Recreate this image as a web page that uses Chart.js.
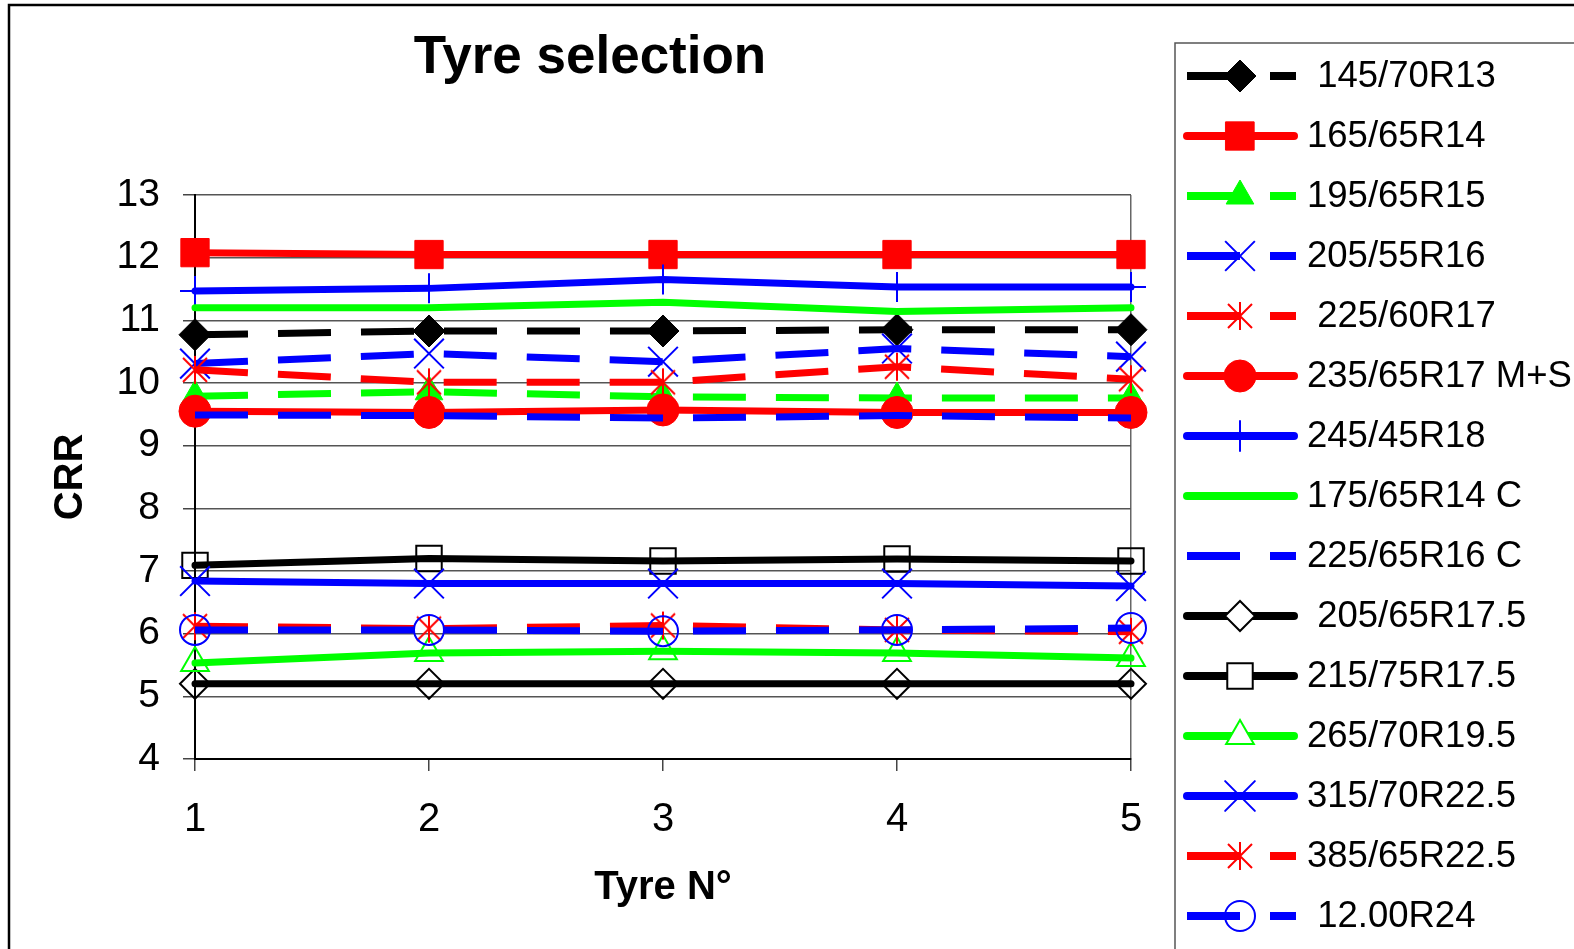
<!DOCTYPE html>
<html>
<head>
<meta charset="utf-8">
<title>Tyre selection</title>
<script src="https://cdn.jsdelivr.net/npm/chart.js@4"></script>
<style>
  html, body { margin: 0; padding: 0; background: #fff; }
  canvas { display: block; }
</style>
</head>
<body>
<canvas id="tyreChart" width="1574" height="949"></canvas>
<script>
// x categories (tyre number) and legend labels
const tyreNumbers = ['1', '2', '3', '4', '5'];
const tyreSizes = [' 145/70R13', '165/65R14', '195/65R15', '205/55R16', ' 225/60R17',
    '235/65R17 M+S', '245/45R18', '175/65R14 C', '225/65R16 C', ' 205/65R17.5',
    '215/75R17.5', '265/70R19.5', '315/70R22.5', '385/65R22.5', ' 12.00R24'];

// CRR values, one array per tyre
const crr145_70R13 = [10.77, 10.83, 10.83, 10.85, 10.85];
const crr165_65R14 = [12.08, 12.05, 12.05, 12.05, 12.05];
const crr195_65R15 = [9.79, 9.86, 9.78, 9.76, 9.76];
const crr205_55R16 = [10.31, 10.47, 10.34, 10.55, 10.42];
const crr225_60R17 = [10.21, 10.01, 10.01, 10.26, 10.06];
const crr235_65R17MS = [9.55, 9.53, 9.57, 9.53, 9.53];
const crr245_45R18 = [11.47, 11.51, 11.65, 11.53, 11.53];
const crr175_65R14C = [11.20, 11.20, 11.29, 11.14, 11.20];
const crr225_65R16C = [9.49, 9.48, 9.44, 9.48, 9.44];
const crr205_65R175 = [5.20, 5.20, 5.20, 5.20, 5.20];
const crr215_75R175 = [7.09, 7.20, 7.16, 7.19, 7.16];
const crr265_70R195 = [5.53, 5.69, 5.72, 5.69, 5.61];
const crr315_70R225 = [6.84, 6.80, 6.80, 6.80, 6.76];
const crr385_65R225 = [6.12, 6.08, 6.13, 6.06, 6.03];
const crr1200R24 = [6.06, 6.06, 6.04, 6.06, 6.09];

const BLACK = '#000000', RED = '#ff0000', GREEN = '#00ff00', BLUE = '#0000ff';
const DASH = [53, 30];
const FONT = '"Liberation Sans", Arial, sans-serif';

// Excel style asterisk: an X plus a vertical bar
function makeAsterisk(color) {
    const c = document.createElement('canvas');
    c.width = 30; c.height = 30;
    const g = c.getContext('2d');
    g.strokeStyle = color;
    g.lineWidth = 2;
    g.beginPath();
    g.moveTo(3, 3); g.lineTo(27, 27);
    g.moveTo(27, 3); g.lineTo(3, 27);
    g.moveTo(15, 1); g.lineTo(15, 29);
    g.stroke();
    return c;
}
const redAsterisk = makeAsterisk(RED);

function series(i, data, color, dashed, style, radius, fill, bw) {
    return {
        label: tyreSizes[i],
        data: data,
        borderColor: color,
        backgroundColor: color,
        borderWidth: 7,
        borderDash: dashed ? DASH : [],
        borderCapStyle: dashed ? 'butt' : 'round',
        tension: 0,
        pointStyle: style || 'circle',
        pointRadius: style ? radius : 0,
        pointHoverRadius: style ? radius : 0,
        pointBackgroundColor: fill,
        pointBorderColor: color,
        pointBorderWidth: bw,
        clip: false,
        order: tyreSizes.length - i
    };
}

const datasets = [
    series(0, crr145_70R13, BLACK, true, 'rectRot', 16, BLACK, 1),
    series(1, crr165_65R14, RED, false, 'rect', 20, RED, 1),
    series(2, crr195_65R15, GREEN, true, 'triangle', 16, GREEN, 1),
    series(3, crr205_55R16, BLUE, true, 'crossRot', 21, BLUE, 2),
    series(4, crr225_60R17, RED, true, redAsterisk, 15, RED, 2),
    series(5, crr235_65R17MS, RED, false, 'circle', 16, RED, 1),
    series(6, crr245_45R18, BLUE, false, 'cross', 15, BLUE, 2),
    series(7, crr175_65R14C, GREEN, false, null, 0, GREEN, 0),
    series(8, crr225_65R16C, BLUE, true, null, 0, BLUE, 0),
    series(9, crr205_65R175, BLACK, false, 'rectRot', 15, 'rgba(0,0,0,0)', 2),
    series(10, crr215_75R175, BLACK, false, 'rect', 18, 'rgba(0,0,0,0)', 2),
    series(11, crr265_70R195, GREEN, false, 'triangle', 16, 'rgba(0,0,0,0)', 2),
    series(12, crr315_70R225, BLUE, false, 'crossRot', 21, BLUE, 2),
    series(13, crr385_65R225, RED, true, redAsterisk, 15, RED, 2),
    series(14, crr1200R24, BLUE, true, 'circle', 15, 'rgba(0,0,0,0)', 2)
];

// white page, outer frame, and the boxed legend on the right
const framePlugin = {
    id: 'frame',
    beforeDraw(chart) {
        const ctx = chart.ctx;
        ctx.save();
        ctx.fillStyle = '#fff';
        ctx.fillRect(0, 0, chart.width, chart.height);
        ctx.strokeStyle = '#000';
        ctx.lineWidth = 2.5;
        ctx.beginPath();
        ctx.moveTo(9, chart.height + 5);
        ctx.lineTo(9, 5);
        ctx.lineTo(chart.width + 5, 5);
        ctx.stroke();
        ctx.restore();
    },
    afterDraw(chart) {
        const ctx = chart.ctx;
        ctx.save();
        ctx.strokeStyle = '#555';
        ctx.lineWidth = 1.5;
        ctx.strokeRect(1175, 43, 600, 1000);
        chart.data.datasets.forEach((ds, i) => {
            const y = 76 + i * 60;
            const dashed = ds.borderDash.length > 0;
            ctx.setLineDash(ds.borderDash);
            ctx.lineCap = dashed ? 'butt' : 'round';
            ctx.lineWidth = 8;
            ctx.strokeStyle = ds.borderColor;
            ctx.beginPath();
            ctx.moveTo(1187, y);
            ctx.lineTo(dashed ? 1296 : 1294, y);
            ctx.stroke();
            ctx.setLineDash([]);
            if (ds.pointRadius > 0) {
                ctx.fillStyle = ds.pointBackgroundColor === 'rgba(0,0,0,0)' && ds.pointStyle !== 'circle'
                    ? '#fff' : ds.pointBackgroundColor;
                ctx.strokeStyle = ds.pointBorderColor;
                ctx.lineWidth = ds.pointBorderWidth;
                ctx.beginPath();
                Chart.helpers.drawPoint(ctx, {
                    pointStyle: ds.pointStyle,
                    radius: ds.pointRadius,
                    borderWidth: ds.pointBorderWidth,
                    rotation: 0
                }, 1240, y);
            }
            ctx.fillStyle = '#000';
            ctx.font = '36.5px ' + FONT;
            ctx.textBaseline = 'middle';
            ctx.textAlign = 'left';
            ctx.fillText(ds.label, 1307, y + 1);
        });
        ctx.restore();
    }
};

new Chart(document.getElementById('tyreChart'), {
    type: 'line',
    data: { labels: tyreNumbers, datasets: datasets },
    options: {
        responsive: false,
        animation: false,
        devicePixelRatio: 1,
        layout: { padding: { left: 49, top: 0, right: 443, bottom: 0 } },
        plugins: {
            legend: { display: false },
            tooltip: { enabled: false },
            title: {
                display: true,
                text: 'Tyre selection',
                color: '#000',
                font: { family: FONT, size: 53, weight: 'bold', lineHeight: 1.2 },
                padding: { top: 27, bottom: 104.4 }
            }
        },
        scales: {
            x: {
                type: 'category',
                offset: false,
                afterFit(scale) { scale.height = 190; },
                grid: {
                    offset: false,
                    color: (c) => (c.index === 0 || c.index === 4) ? '#666' : 'rgba(0,0,0,0)',
                    tickColor: '#444',
                    lineWidth: 1.5,
                    tickLength: 12
                },
                border: { color: '#000', width: 2 },
                ticks: {
                    color: '#000',
                    font: { family: FONT, size: 40 },
                    padding: 25,
                    maxRotation: 0,
                    autoSkip: false
                },
                title: {
                    display: true,
                    text: 'Tyre N°',
                    color: '#000',
                    font: { family: FONT, size: 40, weight: 'bold', lineHeight: 1.1 },
                    padding: { top: 0, bottom: 39 }
                }
            },
            y: {
                min: 4,
                max: 13,
                afterFit(scale) { scale.width = 146; },
                grid: {
                    color: '#555',
                    lineWidth: 1.5,
                    tickColor: '#444',
                    tickLength: 12
                },
                border: { color: '#000', width: 2 },
                ticks: {
                    stepSize: 1,
                    color: '#000',
                    font: { family: FONT, size: 39 },
                    padding: 23
                },
                title: {
                    display: true,
                    text: 'CRR',
                    color: '#000',
                    font: { family: FONT, size: 40, weight: 'bold', lineHeight: 1.1 },
                    padding: { top: 0, bottom: 0 }
                }
            }
        }
    },
    plugins: [framePlugin]
});
</script>
</body>
</html>
